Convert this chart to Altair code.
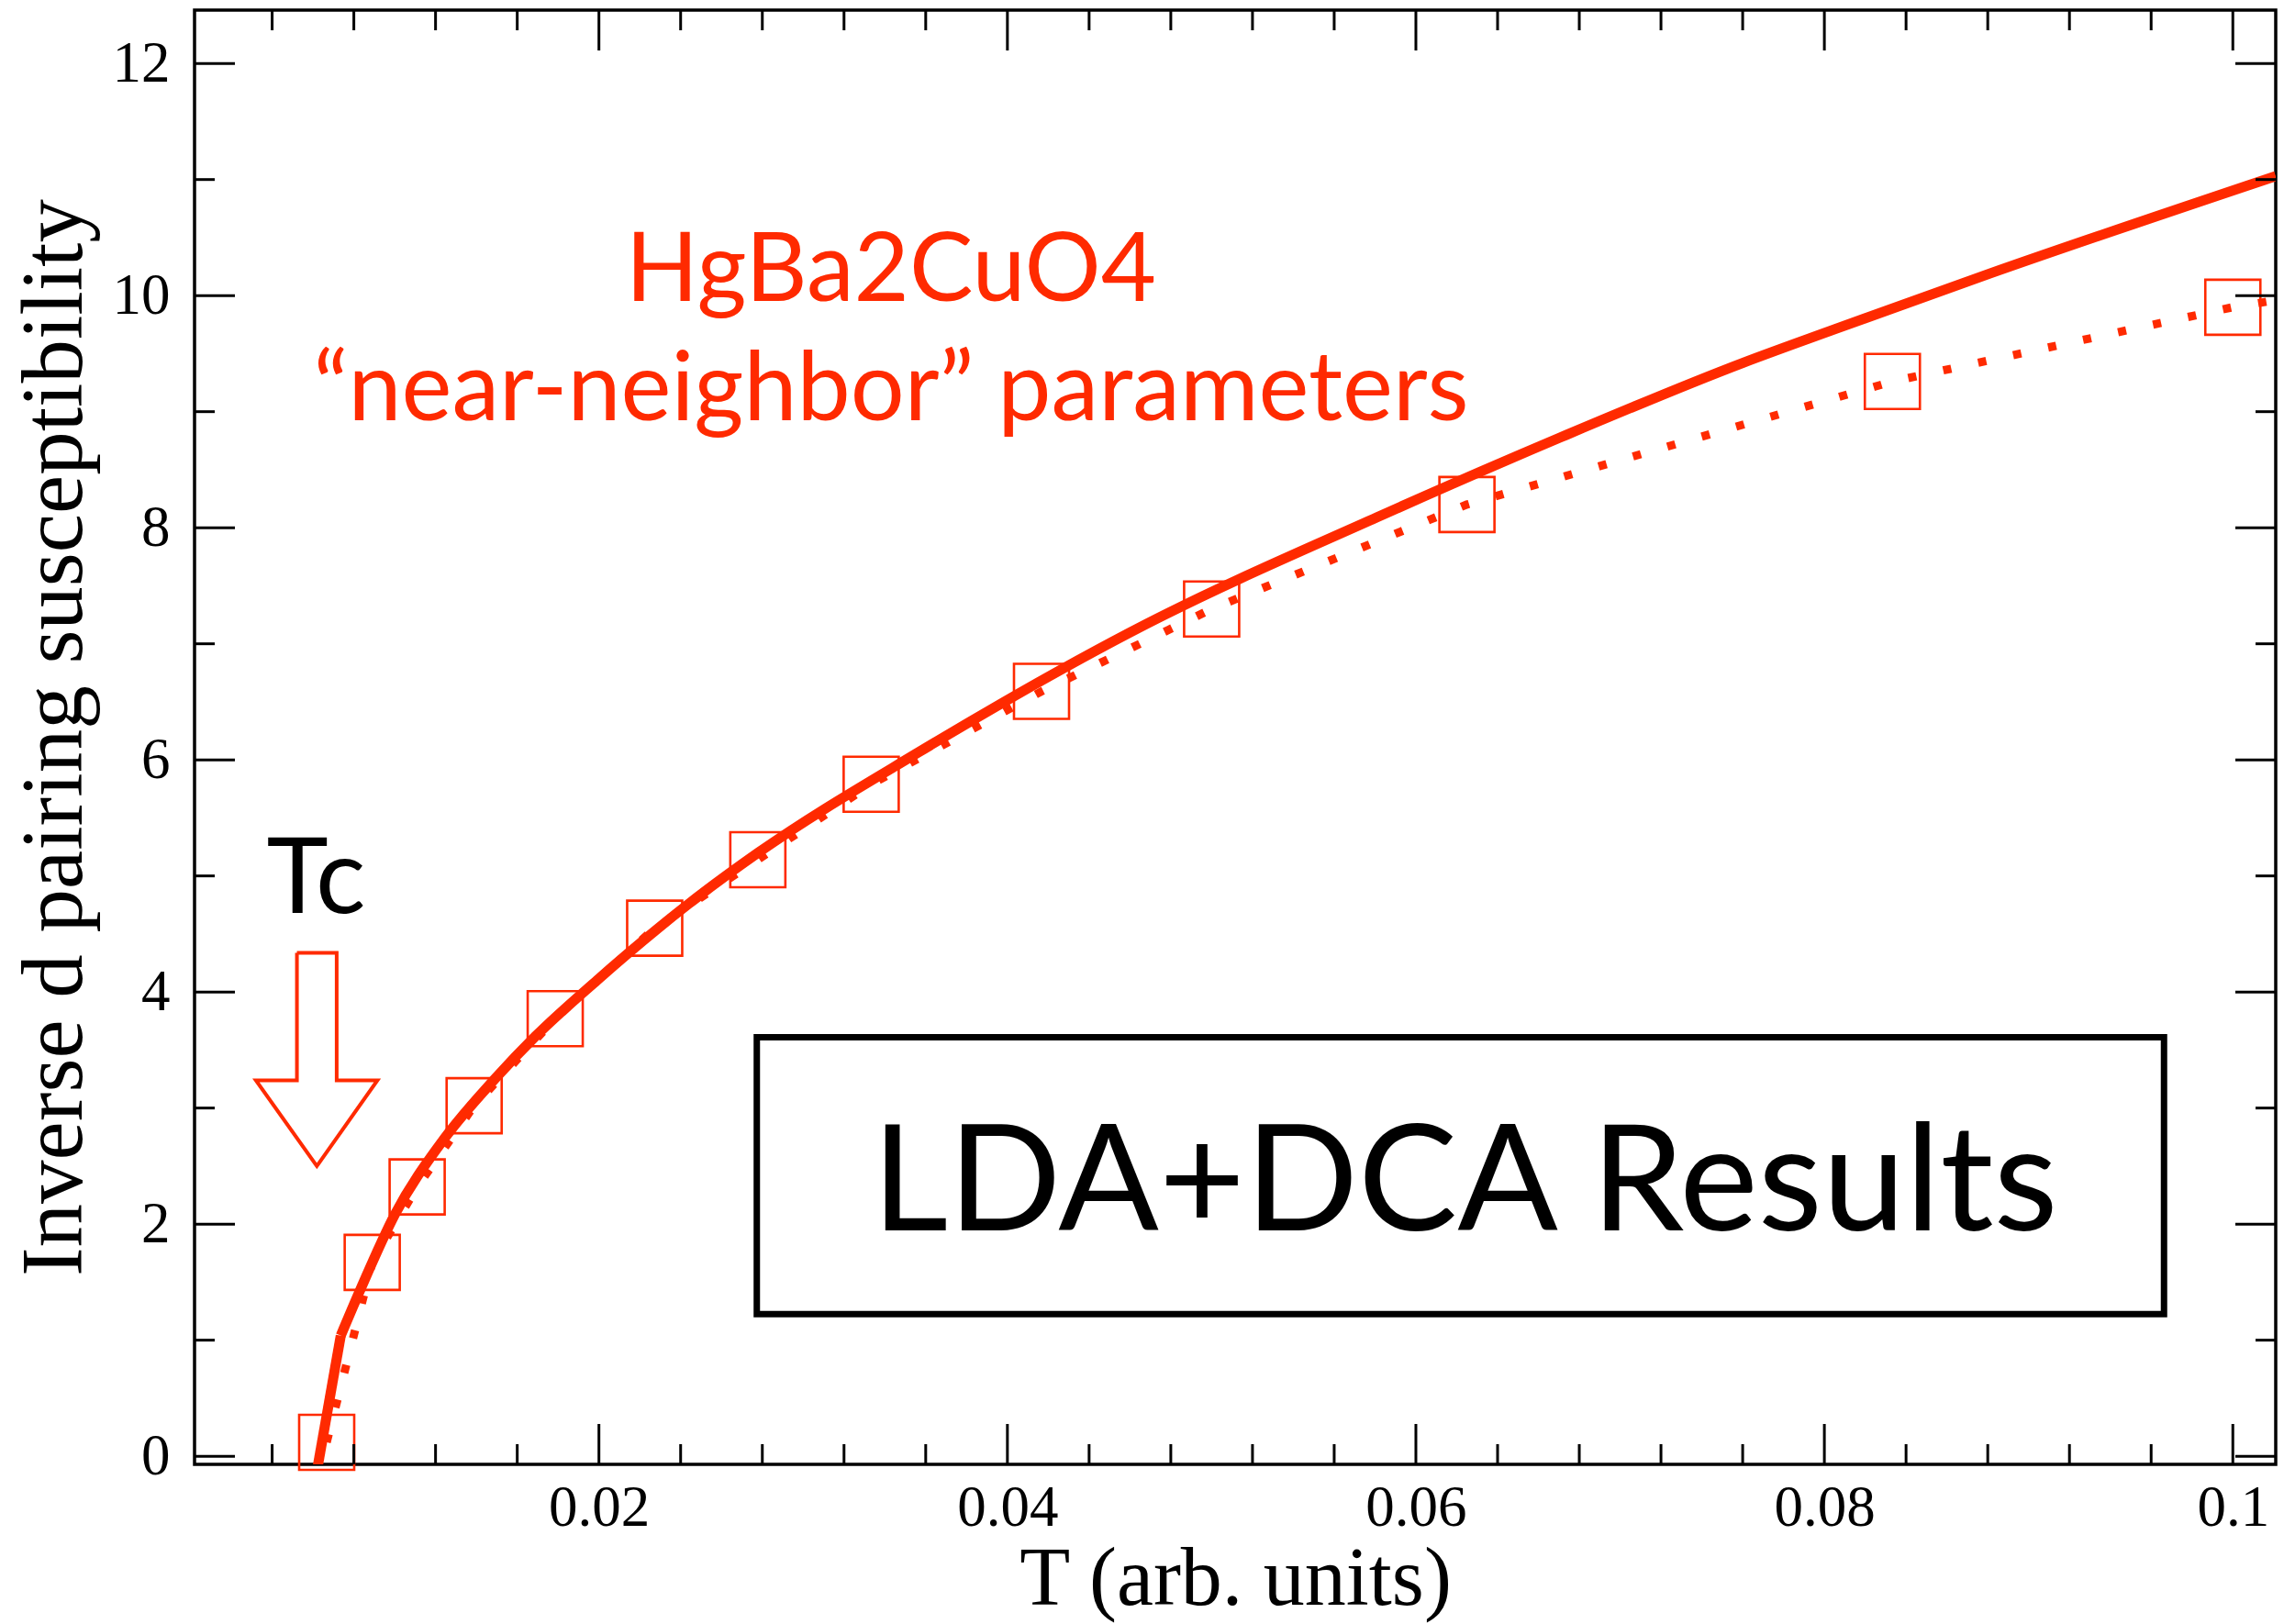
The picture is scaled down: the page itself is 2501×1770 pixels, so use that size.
import altair as alt
import pandas as pd

RED = "#ff2a00"

# ---- data ----
T_pts = [0.00667, 0.0089, 0.0111, 0.01389, 0.01786, 0.02273, 0.02778, 0.03333, 0.04167, 0.05, 0.0625, 0.08333, 0.1]
chi_pts = [0.12, 1.67, 2.32, 3.02, 3.77, 4.55, 5.14, 5.79, 6.59, 7.30, 8.20, 9.26, 9.90]

T_dot = [0.00667, 0.0089, 0.0111, 0.01389, 0.01786, 0.02273, 0.02778, 0.03333, 0.04167, 0.05, 0.0625, 0.08333, 0.1, 0.1021]
chi_dot = [0.12, 1.67, 2.32, 3.02, 3.77, 4.55, 5.14, 5.79, 6.59, 7.30, 8.20, 9.26, 9.90, 9.96]

# solid curve: steep segment below the kink, then the smooth branch
T_fit_low = [0.0062, 0.00736]
chi_fit_low = [-0.12, 1.04]
T_fit = [0.00736, 0.00833, 0.0100, 0.0124, 0.0149, 0.0169, 0.0199, 0.0244, 0.0278, 0.0356, 0.0468, 0.0581, 0.0671, 0.0760, 0.0805, 0.0881, 0.1021]
chi_fit = [1.04, 1.44, 2.08, 2.73, 3.25, 3.62, 4.10, 4.76, 5.20, 6.06, 7.17, 8.09, 8.78, 9.42, 9.71, 10.19, 11.03]

x_major = [0.02, 0.04, 0.06, 0.08, 0.1]
x_minor = [0.004, 0.008, 0.012, 0.016, 0.024, 0.028, 0.032, 0.036, 0.044, 0.048, 0.052, 0.056,
           0.064, 0.068, 0.072, 0.076, 0.084, 0.088, 0.092, 0.096]
y_major = [0, 2, 4, 6, 8, 10, 12]
y_minor = [1, 3, 5, 7, 9, 11]

note_x = [0.0343, 0.0343]
note_y = [9.955, 8.925]
note_text = ["HgBa2CuO4", "\u201cnear-neighbor\u201d parameters"]

box_x1 = [0.02773]
box_x2 = [0.09663]
box_y1 = [1.225]
box_y2 = [3.61]
box_label = ["LDA+DCA Results"]
box_label_x = [0.0624]
box_label_y = [1.947]

tc_label = ["Tc"]
tc_x = [0.00615]
tc_y = [4.68]

arrow_x = [0.005213, 0.00716, 0.00716, 0.009155, 0.006189, 0.003204, 0.005213, 0.005213]
arrow_y = [4.338, 4.338, 3.239, 3.239, 2.500, 3.239, 3.239, 4.338]

# ---- geometry ----
W, H = 2268, 1585
xs = alt.Scale(domain=[0.0002, 0.1021], nice=False, zero=False)
ys = alt.Scale(domain=[-0.07, 12.46], nice=False, zero=False)

SERIF = "Liberation Serif"
SANS = "Lato"

x_axis = alt.Axis(values=x_major, format="~g", labelFont=SERIF, labelFontSize=63, labelColor="black",
                  labelBaseline="alphabetic", labelPadding=66, tickSize=0, ticks=False, domain=False, grid=False,
                  labelFlush=False, labelOverlap=False,
                  title="T (arb. units)", titleFont=SERIF, titleFontSize=90, titleFontWeight="normal",
                  titleColor="black", titleBaseline="alphabetic", titleX=W / 2, titleY=152, titleAlign="center")
y_axis = alt.Axis(values=y_major, format="d", labelFont=SERIF, labelFontSize=63, labelColor="black",
                  labelBaseline="middle", labelAlign="right", labelPadding=27, tickSize=0, ticks=False,
                  domain=False, grid=False, labelFlush=False, labelOverlap=False,
                  title="Inverse d pairing susceptibility", titleFont=SERIF, titleFontSize=95,
                  titleFontWeight="normal", titleColor="black", titleAngle=270, titleBaseline="alphabetic",
                  titleX=-124, titleY=H / 2, titleAlign="center")


def X(field):
    return alt.X(field, scale=xs, axis=x_axis)


def Y(field):
    return alt.Y(field, scale=ys, axis=y_axis)


pts = pd.DataFrame({"T": T_pts, "chi": chi_pts})
dot = pd.DataFrame({"T": T_dot, "chi": chi_dot})
fit_low = pd.DataFrame({"T": T_fit_low, "chi": chi_fit_low, "seg": "low"})
fit_high = pd.DataFrame({"T": T_fit, "chi": chi_fit, "seg": "high"})
fit = pd.concat([fit_low, fit_high], ignore_index=True)

squares = alt.Chart(pts).mark_point(shape="square", filled=False, size=3600, strokeWidth=2.6,
                                    color=RED, opacity=1).encode(x=X("T:Q"), y=Y("chi:Q"))

dotted = alt.Chart(dot).mark_line(color=RED, strokeWidth=9, strokeDash=[9, 30], strokeCap="butt",
                                  clip=True).encode(x=X("T:Q"), y=Y("chi:Q"))

solid = alt.Chart(fit).mark_line(color=RED, strokeWidth=11, clip=True, interpolate="monotone").encode(
    x=X("T:Q"), y=Y("chi:Q"), detail="seg:N")


def xticks(vals, length, top):
    d = pd.DataFrame({"v": vals})
    return alt.Chart(d).mark_rule(color="black", strokeWidth=3).encode(
        x=X("v:Q"), y=alt.value(0 if top else H), y2=alt.value(length if top else H - length))


def yticks(vals, length, right):
    d = pd.DataFrame({"v": vals})
    return alt.Chart(d).mark_rule(color="black", strokeWidth=3).encode(
        y=Y("v:Q"), x=alt.value(W if right else 0), x2=alt.value(W - length if right else length))


ticks = [xticks(x_major, 44, False), xticks(x_minor, 22, False),
         xticks(x_major, 44, True), xticks(x_minor, 22, True),
         yticks(y_major, 44, False), yticks(y_minor, 22, False),
         yticks(y_major, 44, True), yticks(y_minor, 22, True)]

notes = alt.Chart(pd.DataFrame({"x": note_x, "y": note_y, "t": note_text})).mark_text(
    font=SANS, fontSize=104, color=RED, align="center", baseline="alphabetic").encode(
    x=X("x:Q"), y=Y("y:Q"), text="t:N")

box = alt.Chart(pd.DataFrame({"x1": box_x1, "x2": box_x2, "y1": box_y1, "y2": box_y2})).mark_rect(
    fill="white", stroke="black", strokeWidth=7).encode(
    x=X("x1:Q"), x2="x2:Q", y=Y("y1:Q"), y2="y2:Q")

box_text = alt.Chart(pd.DataFrame({"x": box_label_x, "y": box_label_y, "t": box_label})).mark_text(
    font=SANS, fontSize=162, color="black", align="center", baseline="alphabetic").encode(
    x=X("x:Q"), y=Y("y:Q"), text="t:N")

tc_text = alt.Chart(pd.DataFrame({"x": tc_x, "y": tc_y, "t": tc_label})).mark_text(
    font=SANS, fontSize=114, color="black", align="center", baseline="alphabetic").encode(
    x=X("x:Q"), y=Y("y:Q"), text="t:N")

arrow = alt.Chart(pd.DataFrame({"x": arrow_x, "y": arrow_y, "i": list(range(len(arrow_x)))})).mark_line(
    color=RED, strokeWidth=4, strokeJoin="miter").encode(
    x=X("x:Q"), y=Y("y:Q"), order="i:Q")

chart = alt.layer(squares, dotted, solid, *ticks, notes, box, box_text, tc_text, arrow).properties(
    width=W, height=H,
    autosize=alt.AutoSizeParams(type="none"),
    padding={"left": 212, "top": 11, "right": 21, "bottom": 174},
    background="white",
).configure_view(stroke="black", strokeWidth=3.5)

chart.save("out.html", embed_options={"renderer": "svg", "actions": False})
